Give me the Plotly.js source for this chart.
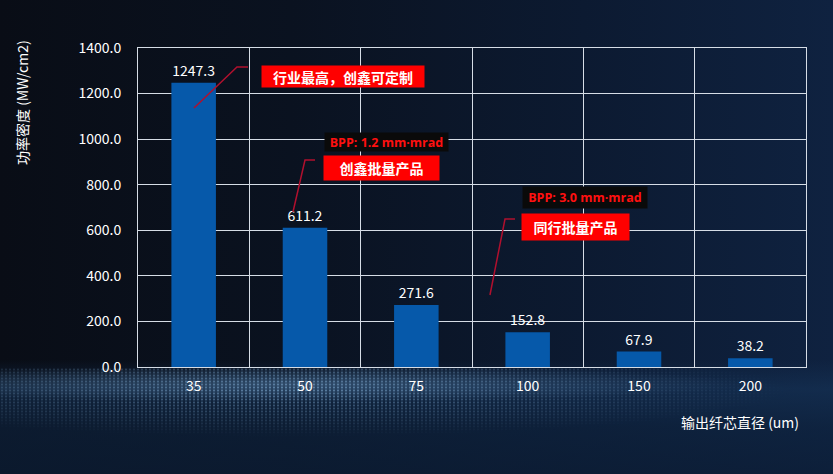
<!DOCTYPE html>
<html>
<head>
<meta charset="utf-8">
<script src="https://cdn.plot.ly/plotly-3.0.1.min.js"></script>
<style>
  html, body { margin:0; padding:0; }
  body { width:833px; height:474px; overflow:hidden; position:relative;
    background: linear-gradient(90deg, #090d16 0%, #0a1220 35%, #0c1a31 70%, #0f2240 100%); }
  #bg2 { position:absolute; left:0; top:0; width:833px; height:474px;
    background: linear-gradient(180deg, rgba(0,0,0,0) 0%, rgba(0,0,0,0) 76%, rgba(22,52,88,0.55) 82%, rgba(14,36,64,0.6) 90%, rgba(12,30,55,0.7) 100%); }
  #dots { position:absolute; left:0; top:368px; width:833px; height:106px;
    background-image: radial-gradient(circle, rgba(140,185,225,0.6) 0.7px, rgba(0,0,0,0) 1.4px);
    background-size: 4px 3px;
    -webkit-mask-image: radial-gradient(ellipse 60% 45% at 35% 20%, rgba(0,0,0,0.9) 0%, rgba(0,0,0,0.4) 50%, rgba(0,0,0,0) 100%);
    mask-image: radial-gradient(ellipse 60% 45% at 35% 20%, rgba(0,0,0,0.9) 0%, rgba(0,0,0,0.4) 50%, rgba(0,0,0,0) 100%); }
  #glow { position:absolute; left:0; top:368px; width:833px; height:40px;
    background: radial-gradient(ellipse 55% 45% at 35% 40%, rgba(120,170,215,0.3) 0%, rgba(0,0,0,0) 100%); }
  #chart { position:absolute; left:0; top:0; width:833px; height:474px; }
</style>
</head>
<body>
<div id="bg2"></div>
<div id="glow"></div>
<div id="dots"></div>
<div id="chart"></div>
<script>
const categories = ['35', '50', '75', '100', '150', '200'];
const powerDensity = [1247.3, 611.2, 271.6, 152.8, 67.9, 38.2];
const yTitle = '功率密度 (MW/cm2)';
const xTitle = '输出纤芯直径 (um)';
const calloutTop = '行业最高，创鑫可定制';
const bppOurs = 'BPP: 1.2 mm·mrad';
const labelOurs = '创鑫批量产品';
const bppPeer = 'BPP: 3.0 mm·mrad';
const labelPeer = '同行批量产品';

const W = 833, H = 474;
const L = 138, R = 27, T = 48, B = 107;
const pw = W - L - R, ph = H - T - B;
const px = x => (x - L) / pw;
const py = y => (H - B - y) / ph;

const font = '"Noto Sans CJK SC", "Noto Sans", sans-serif';
const latin = '"Open Sans", "Noto Sans", sans-serif';
const gridCol = '#d6dde6';
const lineCol = '#b0102e';

const trace = {
  type: 'bar',
  x: categories,
  y: powerDensity,
  width: 0.4,
  marker: { color: '#0659aa' },
  texttemplate: '%{y:.1f}',
  textposition: 'outside',
  constraintext: 'none',
  cliponaxis: false,
  textfont: { color: '#ffffff', size: 14, family: font },
  hoverinfo: 'skip'
};

function box(text, cx, cy, w, h, bg, col, size, fam) {
  return { xref: 'paper', yref: 'paper', x: px(cx), y: py(cy), xanchor: 'center', yanchor: 'middle',
    text: '<b>' + text + '</b>', showarrow: false, bgcolor: bg, width: w, height: h, borderpad: 0,
    font: { color: col, size: size, family: fam || font } };
}
function path(pts) {
  return { type: 'path', xref: 'paper', yref: 'paper',
    path: pts.map((p, i) => (i ? 'L' : 'M') + px(p[0]).toFixed(4) + ',' + py(p[1]).toFixed(4)).join(' '),
    line: { color: lineCol, width: 1.5 } };
}

const layout = {
  width: W, height: H,
  margin: { l: L, r: R, t: T, b: B },
  paper_bgcolor: 'rgba(0,0,0,0)',
  plot_bgcolor: 'rgba(0,0,0,0)',
  showlegend: false,
  font: { family: font, color: '#ffffff' },
  xaxis: {
    type: 'category', tickson: 'boundaries', showgrid: true, gridcolor: gridCol, gridwidth: 1,
    showline: true, linecolor: gridCol, mirror: true, ticks: '', zeroline: false,
    tickfont: { size: 14, color: '#ffffff', family: font }, ticklabelstandoff: 6
  },
  yaxis: {
    range: [0, 1400], dtick: 200, tickformat: '.1f', showgrid: true, gridcolor: gridCol, gridwidth: 1,
    showline: true, linecolor: gridCol, mirror: true, ticks: '', zeroline: false,
    tickfont: { size: 14, color: '#ffffff', family: font }, ticklabelstandoff: 13
  },
  annotations: [
    { xref: 'paper', yref: 'paper', x: px(22), y: py(103), textangle: -90, showarrow: false,
      text: yTitle, font: { size: 14, color: '#ffffff', family: font }, xanchor: 'center', yanchor: 'middle' },
    { xref: 'paper', yref: 'paper', x: px(801), y: py(422), showarrow: false,
      text: xTitle, font: { size: 14, color: '#ffffff', family: font }, xanchor: 'right', yanchor: 'middle' },
    box(calloutTop, 343, 76.5, 162, 21, '#ff0000', '#ffffff', 14),
    box(bppOurs, 386.5, 142, 123, 18, '#0a0a0a', '#ff1010', 12.5, latin),
    box(labelOurs, 381.5, 168, 115, 24, '#ff0000', '#ffffff', 14),
    box(bppPeer, 585, 197.5, 124, 21, '#0a0a0a', '#ff1010', 12.5, latin),
    box(labelPeer, 575.5, 227, 107, 26, '#ff0000', '#ffffff', 14)
  ],
  shapes: [
    path([[194, 108], [237, 67], [248, 67]]),
    path([[293, 212], [305, 160], [315, 160]]),
    path([[490, 295], [505, 219], [515, 219]])
  ]
};

Plotly.newPlot('chart', [trace], layout, { displayModeBar: false, staticPlot: true });
</script>
</body>
</html>
